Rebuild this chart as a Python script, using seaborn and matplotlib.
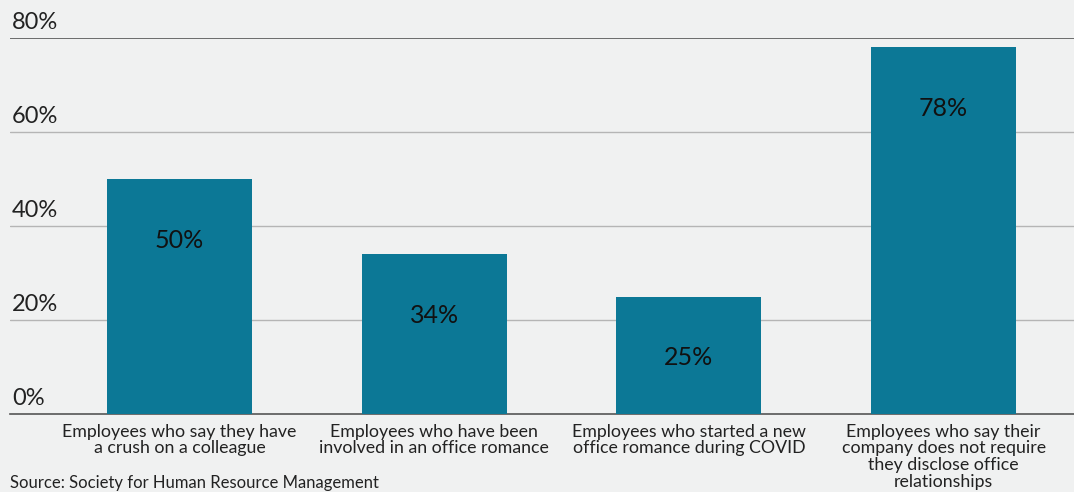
import matplotlib
matplotlib.use("Agg")
import matplotlib.pyplot as plt
import seaborn as sns
import pandas as pd
import matplotlib.transforms as mtransforms

categories = [
    "Employees who say they have\na crush on a colleague",
    "Employees who have been\ninvolved in an office romance",
    "Employees who started a new\noffice romance during COVID",
    "Employees who say their\ncompany does not require\nthey disclose office\nrelationships",
]
values = [50, 34, 25, 78]
yticks = [0, 20, 40, 60, 80]
ytick_labels = ["0%", "20%", "40%", "60%", "80%"]
source = "Source: Society for Human Resource Management"

bg = "#f0f1f1"
bar_color = "#0c7896"

sns.set_theme(style="white")
plt.rcParams["font.family"] = ["Lato", "DejaVu Sans"]

fig = plt.figure(figsize=(10.74, 4.92), dpi=100, facecolor=bg)
ax = fig.add_axes([10 / 1074, 78 / 492, 1 - 10 / 1074, (414 - 38) / 492])
ax.set_facecolor(bg)

df = pd.DataFrame({"cat": categories, "val": values})
sns.barplot(data=df, x="cat", y="val", color=bar_color, saturation=1,
            width=0.57, ax=ax, zorder=3, linewidth=0, edgecolor=bar_color)

ax.set_ylim(0, 80)
ax.set_xlim(-0.665, 3.512)
ax.set_yticks(yticks)
ax.set_yticklabels([])
ax.tick_params(axis="y", length=0)
ax.tick_params(axis="x", length=0, pad=7)
ax.set_xticks(range(len(categories)))
ax.set_xticklabels(categories, fontsize=12.8, color="#222222", linespacing=1.05)
ax.set_xlabel("")
ax.set_ylabel("")

for s in ["left", "right", "top"]:
    ax.spines[s].set_visible(False)
ax.spines["bottom"].set_color("#555555")
ax.spines["bottom"].set_linewidth(1.2)

trans = mtransforms.blended_transform_factory(ax.transAxes, ax.transData)
for t, lab in zip(yticks, ytick_labels):
    if t == 0:
        continue
    col = "#555555" if t == 80 else "#b5b5b5"
    lw = 1.2 if t == 80 else 1.0
    ax.axhline(t, color=col, linewidth=lw, zorder=1)
for t, lab in zip(yticks, ytick_labels):
    ax.text(0.002, t + 1.0, lab, transform=trans, ha="left", va="bottom",
            fontsize=17, color="#222222")

for i, v in enumerate(values):
    ax.text(i, v - 13, f"{v}%", ha="center", va="center", fontsize=18,
            color="#111111", zorder=4)

fig.text(10 / 1074, 1 / 492, source, ha="left", va="bottom", fontsize=12,
         color="#222222")

fig.savefig("out.png", dpi=100, facecolor=bg)
